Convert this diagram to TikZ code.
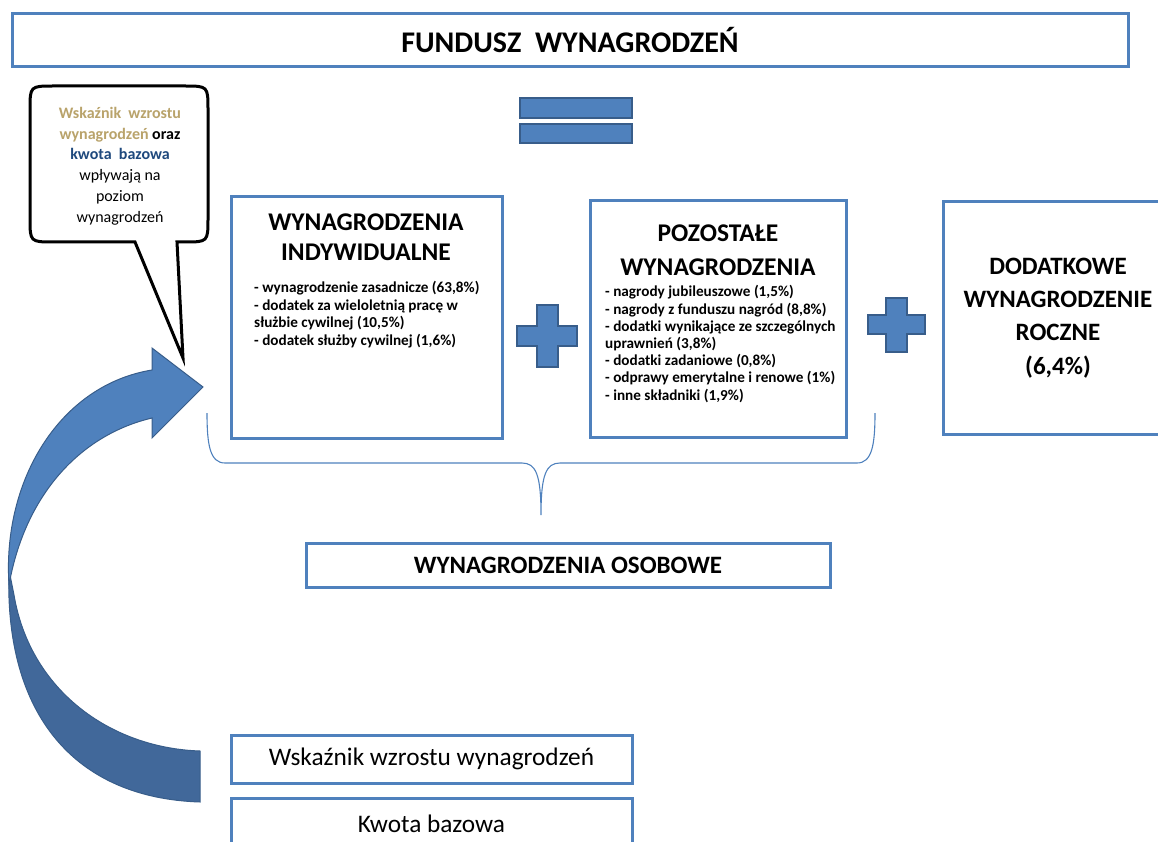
\documentclass[tikz,border=0pt]{standalone}
\usepackage{fontspec}
\setmainfont{Carlito}
\definecolor{frame}{HTML}{4F81BD}
\definecolor{symfill}{HTML}{4F81BD}
\definecolor{symedge}{HTML}{385D8A}
\definecolor{arrowdark}{HTML}{41689A}
\definecolor{tan}{HTML}{B9A36B}
\definecolor{navy}{HTML}{1F497D}
\begin{document}
\begin{tikzpicture}[x=1pt,y=-1pt,
  box/.style={draw=frame,line width=3pt,fill=white,inner sep=0pt},
  sym/.style={fill=symfill,draw=symedge,line width=2.6pt,line join=miter},
  heading/.style={align=center,inner sep=0pt},
  items/.style={font=\bfseries\fontsize{15.2}{17.6}\selectfont,align=left,inner sep=0pt,anchor=north west},
  plain/.style={font=\fontsize{25.3}{28}\selectfont,inner sep=0pt},
  brace/.style={draw=frame,line width=1.1pt},
  bubble/.style={draw=black,line width=3pt,fill=white,line join=miter},
  ribbon/.style={draw=symedge,line width=1pt}]
\useasboundingbox (0,0) rectangle (1158,842);
\clip (0,0) rectangle (1158,842);

% title bar
\node[box,minimum width=1116pt,minimum height=53pt] (fund) at (570,40.5) {};
\node[font=\bfseries\fontsize{30}{34}\selectfont,inner sep=0pt] (fundT) at (fund.center) {FUNDUSZ\ \ WYNAGRODZEŃ};

% equals sign
\path[sym] (520,98) rectangle (632,118);
\path[sym] (520,124) rectangle (632,143);

% individual salaries
\node[box,minimum width=271pt,minimum height=241pt] (ind) at (366.5,317.5) {};
\node[heading,font=\bfseries\fontsize{25.5}{30}\selectfont] (indT) at (366,237) {WYNAGRODZENIA\\INDYWIDUALNE};
\node[items] (indL) at (254,281) {- wynagrodzenie zasadnicze (63,8\%)\\- dodatek za wieloletnią pracę w\\służbie cywilnej (10,5\%)\\- dodatek służby cywilnej (1,6\%)};

% other salaries
\node[box,minimum width=256pt,minimum height=236pt] (oth) at (718,319) {};
\node[heading,font=\bfseries\fontsize{25.5}{34}\selectfont] (othT) at (718,250) {POZOSTAŁE\\WYNAGRODZENIA};
\node[items,font=\bfseries\fontsize{15.2}{17.2}\selectfont] (othL) at (605,285.5) {- nagrody jubileuszowe (1,5\%)\\- nagrody z funduszu nagród (8,8\%)\\- dodatki wynikające ze szczególnych\\uprawnień (3,8\%)\\- dodatki zadaniowe (0,8\%)\\- odprawy emerytalne i renowe (1\%)\\- inne składniki (1,9\%)};

% annual bonus
\node[box,minimum width=240pt,minimum height=232pt] (ann) at (1063,318) {};
\node[heading,font=\bfseries\fontsize{25}{33.3}\selectfont] (annT) at (1058,318) {DODATKOWE\\WYNAGRODZENIE\\ROCZNE\\(6,4\%)};

% plus signs
\path[sym] (537,305) -- (558,305) -- (558,326) -- (577,326) -- (577,346) -- (558,346) -- (558,367) -- (537,367) -- (537,346) -- (517,346) -- (517,326) -- (537,326) -- cycle;
\path[sym] (886,298) -- (907,298) -- (907,315) -- (925,315) -- (925,334) -- (907,334) -- (907,352) -- (886,352) -- (886,334) -- (868,334) -- (868,315) -- (886,315) -- cycle;

% curly brace grouping the personal salaries
\coordinate (bl) at (207,413);
\coordinate (bt) at (541,515);
\coordinate (br) at (875,413);
\draw[brace] (bl) .. controls (207,445) and (210,463) .. (225,463) -- (522,463) .. controls (536,463) and (541,475) .. (bt)
  .. controls (541,475) and (546,463) .. (560,463) -- (857,463) .. controls (872,463) and (875,445) .. (br);

\node[box,minimum width=524pt,minimum height=44pt] (pers) at (568,565) {};
\node[font=\bfseries\fontsize{25}{28}\selectfont,inner sep=0pt] (persT) at (pers.center) {WYNAGRODZENIA OSOBOWE};

% input boxes
\node[box,minimum width=401pt,minimum height=48pt] (idx) at (431.5,759) {};
\node[plain] (idxT) at (idx.center) {Wskaźnik wzrostu wynagrodzeń};
\node[box,minimum width=401pt,minimum height=60pt] (base) at (431.5,828) {};
\node[plain] (baseT) at (431.5,824) {Kwota bazowa};

% curved feedback arrow: lower (back) part
\path[ribbon,fill=arrowdark] (9,570) .. controls (4,715) and (75,798) .. (200,802) -- (200,751)
  .. controls (110,748) and (30,690) .. (14,595) -- cycle;
% upper (front) part with arrowhead
\path[ribbon,fill=symfill] (152,370) -- (152,348) -- (203,387) -- (152,438) -- (152,418)
  .. controls (80,435) and (25,495) .. (9,585)
  .. controls (2,480) and (60,385) .. (152,370) -- cycle;

% speech bubble
\path[bubble] (177,242) -- (184,242) .. controls (208,242) .. (208,218) -- (208,110)
  .. controls (208,86) .. (184,86) -- (54,86) .. controls (30,86) .. (30,110) -- (30,218)
  .. controls (30,242) .. (54,242) -- (135,242) -- (183,358) -- cycle;
\node[font=\fontsize{16}{20.8}\selectfont,align=center,inner sep=0pt] (note) at (120,166)
  {\textbf{\color{tan}Wskaźnik\ \ wzrostu}\\
   \textbf{\color{tan}wynagrodzeń} \textbf{oraz}\\
   \textbf{\color{navy}kwota\ \ bazowa}\\
   wpływają na\\poziom\\wynagrodzeń};
\end{tikzpicture}
\end{document}
